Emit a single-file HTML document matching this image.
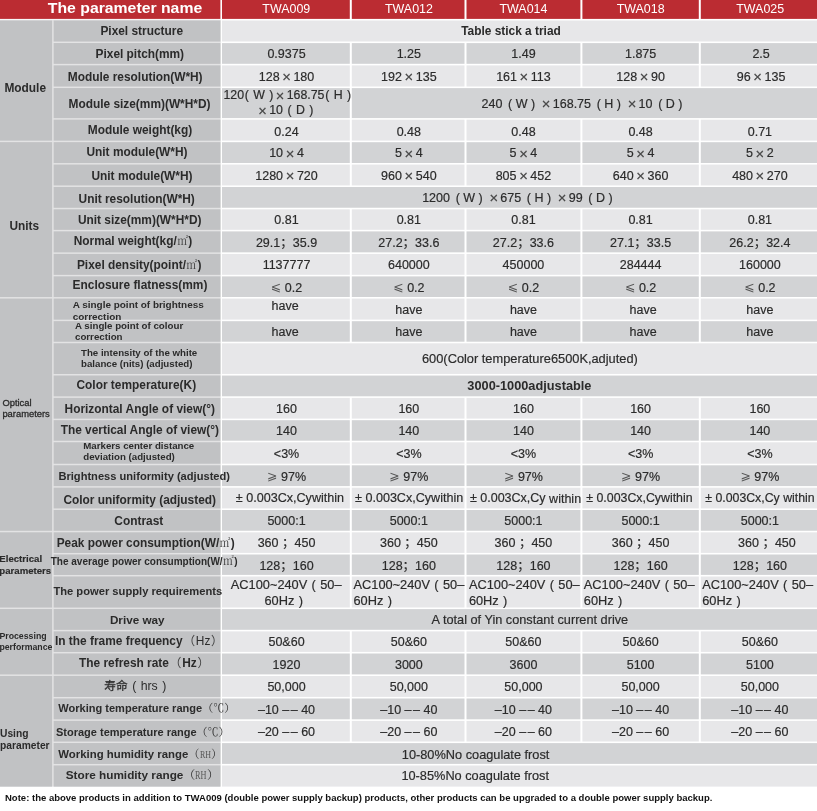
<!DOCTYPE html>
<html lang="en"><head><meta charset="utf-8"><title>The parameter name</title>
<style>
html,body{margin:0;padding:0;background:#fff;}
body{width:817px;height:811px;position:relative;overflow:hidden;font-family:"Liberation Sans","Noto Sans CJK SC",sans-serif;color:#2b2b2b;}
svg{position:absolute;left:0;top:0;display:block;}
.x{position:absolute;white-space:nowrap;}
.d{-webkit-text-stroke:0.18px #2b2b2b;}
.b{font-weight:bold;}
.d.b{-webkit-text-stroke:0;}
.w{color:#fff;}
.n{font-weight:normal;}
.nt{color:#111;}
.s{font-weight:normal;font-family:"Noto Serif CJK SC","Liberation Serif",serif;}
.mx{font-size:1.18em;line-height:0;margin:0 2.6px;position:relative;top:1.2px;color:#4a4a4a;}
.dj{font-family:"DejaVu Sans",sans-serif;font-size:1em;line-height:0;color:#555;position:relative;top:-0.8px;-webkit-text-stroke:0;}
.dd{letter-spacing:1.5px;margin-right:-1.5px;}
.rh{display:inline-block;transform:scaleX(.7);transform-origin:0 50%;margin-right:-4.6px;font-family:"Liberation Serif",serif;color:#555;}
.fp{font-weight:normal;color:#444;margin:0 0.7px;}
.cj{font-size:11.7px;-webkit-text-stroke:0.25px #2b2b2b;line-height:0;}
.wi{position:relative;top:1px;}
.m2{font-weight:normal;font-family:"Noto Serif CJK SC",serif;font-size:10.8px;color:#444;margin:0 0.4px;}
</style></head><body>
<svg width="817" height="811" viewBox="0 0 817 811">
<rect x="0" y="19.7" width="220.75" height="766.9" fill="#e3e3e4"/>
<rect x="0" y="0" width="220.4" height="18.9" fill="#bb2c32"/>
<rect x="222" y="0" width="127.8" height="18.9" fill="#bb2c32"/>
<rect x="351.8" y="0" width="112.7" height="18.9" fill="#bb2c32"/>
<rect x="466.5" y="0" width="113.9" height="18.9" fill="#bb2c32"/>
<rect x="582.4" y="0" width="116.4" height="18.9" fill="#bb2c32"/>
<rect x="700.8" y="0" width="116.2" height="18.9" fill="#bb2c32"/>
<rect x="53.65" y="20.5" width="166.75" height="21.05" fill="#c1c2c4"/>
<rect x="222" y="20.5" width="595" height="21" fill="#e7e7e9"/>
<rect x="53.65" y="43.05" width="166.75" height="20.8" fill="#c1c2c4"/>
<rect x="222" y="43.1" width="127.8" height="20.7" fill="#d2d3d5"/>
<rect x="351.8" y="43.1" width="112.7" height="20.7" fill="#d2d3d5"/>
<rect x="466.5" y="43.1" width="113.9" height="20.7" fill="#d2d3d5"/>
<rect x="582.4" y="43.1" width="116.4" height="20.7" fill="#d2d3d5"/>
<rect x="700.8" y="43.1" width="116.2" height="20.7" fill="#d2d3d5"/>
<rect x="53.65" y="65.35" width="166.75" height="21.2" fill="#c1c2c4"/>
<rect x="222" y="65.4" width="127.8" height="21.1" fill="#e7e7e9"/>
<rect x="351.8" y="65.4" width="112.7" height="21.1" fill="#e7e7e9"/>
<rect x="466.5" y="65.4" width="113.9" height="21.1" fill="#e7e7e9"/>
<rect x="582.4" y="65.4" width="116.4" height="21.1" fill="#e7e7e9"/>
<rect x="700.8" y="65.4" width="116.2" height="21.1" fill="#e7e7e9"/>
<rect x="53.65" y="88.05" width="166.75" height="30.1" fill="#c1c2c4"/>
<rect x="222" y="88.1" width="127.8" height="30" fill="#d2d3d5"/>
<rect x="351.8" y="88.1" width="465.2" height="30" fill="#d2d3d5"/>
<rect x="53.65" y="119.65" width="166.75" height="21" fill="#c1c2c4"/>
<rect x="222" y="119.7" width="127.8" height="20.9" fill="#e7e7e9"/>
<rect x="351.8" y="119.7" width="112.7" height="20.9" fill="#e7e7e9"/>
<rect x="466.5" y="119.7" width="113.9" height="20.9" fill="#e7e7e9"/>
<rect x="582.4" y="119.7" width="116.4" height="20.9" fill="#e7e7e9"/>
<rect x="700.8" y="119.7" width="116.2" height="20.9" fill="#e7e7e9"/>
<rect x="53.65" y="142.15" width="166.75" height="20.9" fill="#c1c2c4"/>
<rect x="222" y="142.2" width="127.8" height="20.8" fill="#d2d3d5"/>
<rect x="351.8" y="142.2" width="112.7" height="20.8" fill="#d2d3d5"/>
<rect x="466.5" y="142.2" width="113.9" height="20.8" fill="#d2d3d5"/>
<rect x="582.4" y="142.2" width="116.4" height="20.8" fill="#d2d3d5"/>
<rect x="700.8" y="142.2" width="116.2" height="20.8" fill="#d2d3d5"/>
<rect x="53.65" y="164.55" width="166.75" height="20.9" fill="#c1c2c4"/>
<rect x="222" y="164.6" width="127.8" height="20.8" fill="#e7e7e9"/>
<rect x="351.8" y="164.6" width="112.7" height="20.8" fill="#e7e7e9"/>
<rect x="466.5" y="164.6" width="113.9" height="20.8" fill="#e7e7e9"/>
<rect x="582.4" y="164.6" width="116.4" height="20.8" fill="#e7e7e9"/>
<rect x="700.8" y="164.6" width="116.2" height="20.8" fill="#e7e7e9"/>
<rect x="53.65" y="186.95" width="166.75" height="20.85" fill="#c1c2c4"/>
<rect x="222" y="187" width="595" height="20.75" fill="#d2d3d5"/>
<rect x="53.65" y="209.3" width="166.75" height="20.55" fill="#c1c2c4"/>
<rect x="222" y="209.35" width="127.8" height="20.45" fill="#e7e7e9"/>
<rect x="351.8" y="209.35" width="112.7" height="20.45" fill="#e7e7e9"/>
<rect x="466.5" y="209.35" width="113.9" height="20.45" fill="#e7e7e9"/>
<rect x="582.4" y="209.35" width="116.4" height="20.45" fill="#e7e7e9"/>
<rect x="700.8" y="209.35" width="116.2" height="20.45" fill="#e7e7e9"/>
<rect x="53.65" y="231.35" width="166.75" height="21.05" fill="#c1c2c4"/>
<rect x="222" y="231.4" width="127.8" height="20.95" fill="#d2d3d5"/>
<rect x="351.8" y="231.4" width="112.7" height="20.95" fill="#d2d3d5"/>
<rect x="466.5" y="231.4" width="113.9" height="20.95" fill="#d2d3d5"/>
<rect x="582.4" y="231.4" width="116.4" height="20.95" fill="#d2d3d5"/>
<rect x="700.8" y="231.4" width="116.2" height="20.95" fill="#d2d3d5"/>
<rect x="53.65" y="253.9" width="166.75" height="20.95" fill="#c1c2c4"/>
<rect x="222" y="253.95" width="127.8" height="20.85" fill="#e7e7e9"/>
<rect x="351.8" y="253.95" width="112.7" height="20.85" fill="#e7e7e9"/>
<rect x="466.5" y="253.95" width="113.9" height="20.85" fill="#e7e7e9"/>
<rect x="582.4" y="253.95" width="116.4" height="20.85" fill="#e7e7e9"/>
<rect x="700.8" y="253.95" width="116.2" height="20.85" fill="#e7e7e9"/>
<rect x="53.65" y="276.35" width="166.75" height="20.7" fill="#c1c2c4"/>
<rect x="222" y="276.4" width="127.8" height="20.6" fill="#d2d3d5"/>
<rect x="351.8" y="276.4" width="112.7" height="20.6" fill="#d2d3d5"/>
<rect x="466.5" y="276.4" width="113.9" height="20.6" fill="#d2d3d5"/>
<rect x="582.4" y="276.4" width="116.4" height="20.6" fill="#d2d3d5"/>
<rect x="700.8" y="276.4" width="116.2" height="20.6" fill="#d2d3d5"/>
<rect x="53.65" y="298.55" width="166.75" height="21.1" fill="#c1c2c4"/>
<rect x="222" y="298.6" width="127.8" height="21" fill="#e7e7e9"/>
<rect x="351.8" y="298.6" width="112.7" height="21" fill="#e7e7e9"/>
<rect x="466.5" y="298.6" width="113.9" height="21" fill="#e7e7e9"/>
<rect x="582.4" y="298.6" width="116.4" height="21" fill="#e7e7e9"/>
<rect x="700.8" y="298.6" width="116.2" height="21" fill="#e7e7e9"/>
<rect x="53.65" y="321.15" width="166.75" height="20.6" fill="#c1c2c4"/>
<rect x="222" y="321.2" width="127.8" height="20.5" fill="#d2d3d5"/>
<rect x="351.8" y="321.2" width="112.7" height="20.5" fill="#d2d3d5"/>
<rect x="466.5" y="321.2" width="113.9" height="20.5" fill="#d2d3d5"/>
<rect x="582.4" y="321.2" width="116.4" height="20.5" fill="#d2d3d5"/>
<rect x="700.8" y="321.2" width="116.2" height="20.5" fill="#d2d3d5"/>
<rect x="53.65" y="343.25" width="166.75" height="30.75" fill="#c1c2c4"/>
<rect x="222" y="343.3" width="595" height="30.65" fill="#e7e7e9"/>
<rect x="53.65" y="375.5" width="166.75" height="20.85" fill="#c1c2c4"/>
<rect x="222" y="375.55" width="595" height="20.75" fill="#d2d3d5"/>
<rect x="53.65" y="397.85" width="166.75" height="20.8" fill="#c1c2c4"/>
<rect x="222" y="397.9" width="127.8" height="20.7" fill="#e7e7e9"/>
<rect x="351.8" y="397.9" width="112.7" height="20.7" fill="#e7e7e9"/>
<rect x="466.5" y="397.9" width="113.9" height="20.7" fill="#e7e7e9"/>
<rect x="582.4" y="397.9" width="116.4" height="20.7" fill="#e7e7e9"/>
<rect x="700.8" y="397.9" width="116.2" height="20.7" fill="#e7e7e9"/>
<rect x="53.65" y="420.15" width="166.75" height="20.6" fill="#c1c2c4"/>
<rect x="222" y="420.2" width="127.8" height="20.5" fill="#d2d3d5"/>
<rect x="351.8" y="420.2" width="112.7" height="20.5" fill="#d2d3d5"/>
<rect x="466.5" y="420.2" width="113.9" height="20.5" fill="#d2d3d5"/>
<rect x="582.4" y="420.2" width="116.4" height="20.5" fill="#d2d3d5"/>
<rect x="700.8" y="420.2" width="116.2" height="20.5" fill="#d2d3d5"/>
<rect x="53.65" y="442.25" width="166.75" height="21.5" fill="#c1c2c4"/>
<rect x="222" y="442.3" width="127.8" height="21.4" fill="#e7e7e9"/>
<rect x="351.8" y="442.3" width="112.7" height="21.4" fill="#e7e7e9"/>
<rect x="466.5" y="442.3" width="113.9" height="21.4" fill="#e7e7e9"/>
<rect x="582.4" y="442.3" width="116.4" height="21.4" fill="#e7e7e9"/>
<rect x="700.8" y="442.3" width="116.2" height="21.4" fill="#e7e7e9"/>
<rect x="53.65" y="465.25" width="166.75" height="20.9" fill="#c1c2c4"/>
<rect x="222" y="465.3" width="127.8" height="20.8" fill="#d2d3d5"/>
<rect x="351.8" y="465.3" width="112.7" height="20.8" fill="#d2d3d5"/>
<rect x="466.5" y="465.3" width="113.9" height="20.8" fill="#d2d3d5"/>
<rect x="582.4" y="465.3" width="116.4" height="20.8" fill="#d2d3d5"/>
<rect x="700.8" y="465.3" width="116.2" height="20.8" fill="#d2d3d5"/>
<rect x="53.65" y="487.65" width="166.75" height="20.8" fill="#c1c2c4"/>
<rect x="222" y="487.7" width="127.8" height="20.7" fill="#e7e7e9"/>
<rect x="351.8" y="487.7" width="112.7" height="20.7" fill="#e7e7e9"/>
<rect x="466.5" y="487.7" width="113.9" height="20.7" fill="#e7e7e9"/>
<rect x="582.4" y="487.7" width="116.4" height="20.7" fill="#e7e7e9"/>
<rect x="700.8" y="487.7" width="116.2" height="20.7" fill="#e7e7e9"/>
<rect x="53.65" y="509.95" width="166.75" height="20.85" fill="#c1c2c4"/>
<rect x="222" y="510" width="127.8" height="20.75" fill="#d2d3d5"/>
<rect x="351.8" y="510" width="112.7" height="20.75" fill="#d2d3d5"/>
<rect x="466.5" y="510" width="113.9" height="20.75" fill="#d2d3d5"/>
<rect x="582.4" y="510" width="116.4" height="20.75" fill="#d2d3d5"/>
<rect x="700.8" y="510" width="116.2" height="20.75" fill="#d2d3d5"/>
<rect x="53.65" y="532.3" width="166.75" height="20.65" fill="#c1c2c4"/>
<rect x="222" y="532.35" width="127.8" height="20.55" fill="#e7e7e9"/>
<rect x="351.8" y="532.35" width="112.7" height="20.55" fill="#e7e7e9"/>
<rect x="466.5" y="532.35" width="113.9" height="20.55" fill="#e7e7e9"/>
<rect x="582.4" y="532.35" width="116.4" height="20.55" fill="#e7e7e9"/>
<rect x="700.8" y="532.35" width="116.2" height="20.55" fill="#e7e7e9"/>
<rect x="53.65" y="554.45" width="166.75" height="20.5" fill="#c1c2c4"/>
<rect x="222" y="554.5" width="127.8" height="20.4" fill="#d2d3d5"/>
<rect x="351.8" y="554.5" width="112.7" height="20.4" fill="#d2d3d5"/>
<rect x="466.5" y="554.5" width="113.9" height="20.4" fill="#d2d3d5"/>
<rect x="582.4" y="554.5" width="116.4" height="20.4" fill="#d2d3d5"/>
<rect x="700.8" y="554.5" width="116.2" height="20.4" fill="#d2d3d5"/>
<rect x="53.65" y="576.45" width="166.75" height="31.1" fill="#c1c2c4"/>
<rect x="222" y="576.5" width="127.8" height="31" fill="#e7e7e9"/>
<rect x="351.8" y="576.5" width="112.7" height="31" fill="#e7e7e9"/>
<rect x="466.5" y="576.5" width="113.9" height="31" fill="#e7e7e9"/>
<rect x="582.4" y="576.5" width="116.4" height="31" fill="#e7e7e9"/>
<rect x="700.8" y="576.5" width="116.2" height="31" fill="#e7e7e9"/>
<rect x="53.65" y="609.05" width="166.75" height="20.8" fill="#c1c2c4"/>
<rect x="222" y="609.1" width="595" height="20.7" fill="#d2d3d5"/>
<rect x="53.65" y="631.35" width="166.75" height="20.6" fill="#c1c2c4"/>
<rect x="222" y="631.4" width="127.8" height="20.5" fill="#e7e7e9"/>
<rect x="351.8" y="631.4" width="112.7" height="20.5" fill="#e7e7e9"/>
<rect x="466.5" y="631.4" width="113.9" height="20.5" fill="#e7e7e9"/>
<rect x="582.4" y="631.4" width="116.4" height="20.5" fill="#e7e7e9"/>
<rect x="700.8" y="631.4" width="116.2" height="20.5" fill="#e7e7e9"/>
<rect x="53.65" y="653.45" width="166.75" height="21" fill="#c1c2c4"/>
<rect x="222" y="653.5" width="127.8" height="20.9" fill="#d2d3d5"/>
<rect x="351.8" y="653.5" width="112.7" height="20.9" fill="#d2d3d5"/>
<rect x="466.5" y="653.5" width="113.9" height="20.9" fill="#d2d3d5"/>
<rect x="582.4" y="653.5" width="116.4" height="20.9" fill="#d2d3d5"/>
<rect x="700.8" y="653.5" width="116.2" height="20.9" fill="#d2d3d5"/>
<rect x="53.65" y="675.95" width="166.75" height="21" fill="#c1c2c4"/>
<rect x="222" y="676" width="127.8" height="20.9" fill="#e7e7e9"/>
<rect x="351.8" y="676" width="112.7" height="20.9" fill="#e7e7e9"/>
<rect x="466.5" y="676" width="113.9" height="20.9" fill="#e7e7e9"/>
<rect x="582.4" y="676" width="116.4" height="20.9" fill="#e7e7e9"/>
<rect x="700.8" y="676" width="116.2" height="20.9" fill="#e7e7e9"/>
<rect x="53.65" y="698.45" width="166.75" height="20.9" fill="#c1c2c4"/>
<rect x="222" y="698.5" width="127.8" height="20.8" fill="#d2d3d5"/>
<rect x="351.8" y="698.5" width="112.7" height="20.8" fill="#d2d3d5"/>
<rect x="466.5" y="698.5" width="113.9" height="20.8" fill="#d2d3d5"/>
<rect x="582.4" y="698.5" width="116.4" height="20.8" fill="#d2d3d5"/>
<rect x="700.8" y="698.5" width="116.2" height="20.8" fill="#d2d3d5"/>
<rect x="53.65" y="720.85" width="166.75" height="20.7" fill="#c1c2c4"/>
<rect x="222" y="720.9" width="127.8" height="20.6" fill="#e7e7e9"/>
<rect x="351.8" y="720.9" width="112.7" height="20.6" fill="#e7e7e9"/>
<rect x="466.5" y="720.9" width="113.9" height="20.6" fill="#e7e7e9"/>
<rect x="582.4" y="720.9" width="116.4" height="20.6" fill="#e7e7e9"/>
<rect x="700.8" y="720.9" width="116.2" height="20.6" fill="#e7e7e9"/>
<rect x="53.65" y="743.05" width="166.75" height="20.9" fill="#c1c2c4"/>
<rect x="222" y="743.1" width="595" height="20.8" fill="#d2d3d5"/>
<rect x="53.65" y="765.45" width="166.75" height="21.15" fill="#c1c2c4"/>
<rect x="222" y="765.5" width="595" height="21.1" fill="#e7e7e9"/>
<rect x="0" y="20.5" width="52.15" height="120.15" fill="#c1c2c4"/>
<rect x="0" y="142.15" width="52.15" height="154.9" fill="#c1c2c4"/>
<rect x="0" y="298.55" width="52.15" height="232.25" fill="#c1c2c4"/>
<rect x="0" y="532.3" width="52.15" height="75.25" fill="#c1c2c4"/>
<rect x="0" y="609.05" width="52.15" height="65.4" fill="#c1c2c4"/>
<rect x="0" y="675.95" width="52.15" height="110.65" fill="#c1c2c4"/>
</svg>
<div class="x b w" style="left:-75px;width:400px;text-align:center;top:-0.1px;font-size:14.8px;line-height:17.8px;transform:scaleX(1.067);">The parameter name</div>
<div class="x w" style="left:86.325px;width:400px;text-align:center;top:1.95px;font-size:12.45px;line-height:14.9px;">TWA009</div>
<div class="x w" style="left:208.95px;width:400px;text-align:center;top:1.95px;font-size:12.45px;line-height:14.9px;">TWA012</div>
<div class="x w" style="left:323.45px;width:400px;text-align:center;top:1.95px;font-size:12.45px;line-height:14.9px;">TWA014</div>
<div class="x w" style="left:440.6px;width:400px;text-align:center;top:1.95px;font-size:12.45px;line-height:14.9px;">TWA018</div>
<div class="x w" style="left:560.2px;width:400px;text-align:center;top:1.95px;font-size:12.45px;line-height:14.9px;">TWA025</div>
<div class="x b" style="left:-58.3px;width:400px;text-align:center;top:23.95px;font-size:11.9px;line-height:14.3px;">Pixel structure</div>
<div class="x d b" style="left:311px;width:400px;text-align:center;top:24.35px;font-size:11.9px;line-height:14.3px;">Table stick a triad</div>
<div class="x b" style="left:-60.2px;width:400px;text-align:center;top:47.25px;font-size:11.9px;line-height:14.3px;">Pixel pitch(mm)</div>
<div class="x d " style="left:86.525px;width:400px;text-align:center;top:47.25px;font-size:12.5px;line-height:15px;">0.9375</div>
<div class="x d " style="left:208.85px;width:400px;text-align:center;top:47.25px;font-size:12.5px;line-height:15px;">1.25</div>
<div class="x d " style="left:323.45px;width:400px;text-align:center;top:47.25px;font-size:12.5px;line-height:15px;">1.49</div>
<div class="x d " style="left:440.6px;width:400px;text-align:center;top:47.25px;font-size:12.5px;line-height:15px;">1.875</div>
<div class="x d " style="left:561.1px;width:400px;text-align:center;top:47.25px;font-size:12.5px;line-height:15px;">2.5</div>
<div class="x b" style="left:-64.8px;width:400px;text-align:center;top:69.95px;font-size:11.9px;line-height:14.3px;">Module resolution(W*H)</div>
<div class="x d " style="left:86.525px;width:400px;text-align:center;top:69.75px;font-size:12.5px;line-height:15px;">128<span class="mx">×</span>180</div>
<div class="x d " style="left:208.85px;width:400px;text-align:center;top:69.75px;font-size:12.5px;line-height:15px;">192<span class="mx">×</span>135</div>
<div class="x d " style="left:323.45px;width:400px;text-align:center;top:69.75px;font-size:12.5px;line-height:15px;">161<span class="mx">×</span>113</div>
<div class="x d " style="left:440.6px;width:400px;text-align:center;top:69.75px;font-size:12.5px;line-height:15px;">128<span class="mx">×</span>90</div>
<div class="x d " style="left:561.1px;width:400px;text-align:center;top:69.75px;font-size:12.5px;line-height:15px;">96<span class="mx">×</span>135</div>
<div class="x b" style="left:-60.5px;width:400px;text-align:center;top:96.75px;font-size:11.9px;line-height:14.3px;">Module size(mm)(W*H*D)</div>
<div class="x d " style="left:87.3px;width:400px;text-align:center;top:88.4px;font-size:12.35px;line-height:14.8px;word-spacing:1px;">120<span style="margin-left:0.7px"></span>( W )<span class="mx" style="margin:0 2.4px">×</span>168.75<span style="margin-left:0.7px"></span>( H )</div>
<div class="x d " style="left:84.7px;width:400px;text-align:center;top:103.4px;font-size:12.35px;line-height:14.8px;word-spacing:1px;"><span class="mx" style="margin:0 2.4px">×</span>10 ( D )</div>
<div class="x d " style="left:382.8px;width:400px;text-align:center;top:96.9px;font-size:12.5px;line-height:15px;">240 <span style="margin-left:2.2px">(</span> W <span style="margin-right:1.5px">)</span> <span class="mx" style="margin:0 2.3px 0 1.7px">×</span>168.75 <span style="margin-left:2.2px">(</span> H <span style="margin-right:1.5px">)</span> <span class="mx" style="margin:0 2.3px 0 1.7px">×</span>10 <span style="margin-left:2.2px">(</span> D <span style="margin-right:1.5px">)</span></div>
<div class="x b" style="left:-60px;width:400px;text-align:center;top:123.45px;font-size:11.9px;line-height:14.3px;">Module weight(kg)</div>
<div class="x d " style="left:86.525px;width:400px;text-align:center;top:124.55px;font-size:12.5px;line-height:15px;">0.24</div>
<div class="x d " style="left:208.85px;width:400px;text-align:center;top:124.55px;font-size:12.5px;line-height:15px;">0.48</div>
<div class="x d " style="left:323.45px;width:400px;text-align:center;top:124.55px;font-size:12.5px;line-height:15px;">0.48</div>
<div class="x d " style="left:440.6px;width:400px;text-align:center;top:124.55px;font-size:12.5px;line-height:15px;">0.48</div>
<div class="x d " style="left:559.9px;width:400px;text-align:center;top:124.55px;font-size:12.5px;line-height:15px;">0.71</div>
<div class="x b" style="left:-63px;width:400px;text-align:center;top:144.75px;font-size:11.9px;line-height:14.3px;">Unit module(W*H)</div>
<div class="x d " style="left:86.525px;width:400px;text-align:center;top:146.4px;font-size:12.5px;line-height:15px;">10<span class="mx">×</span>4</div>
<div class="x d " style="left:208.85px;width:400px;text-align:center;top:146.4px;font-size:12.5px;line-height:15px;">5<span class="mx">×</span>4</div>
<div class="x d " style="left:323.45px;width:400px;text-align:center;top:146.4px;font-size:12.5px;line-height:15px;">5<span class="mx">×</span>4</div>
<div class="x d " style="left:440.6px;width:400px;text-align:center;top:146.4px;font-size:12.5px;line-height:15px;">5<span class="mx">×</span>4</div>
<div class="x d " style="left:559.9px;width:400px;text-align:center;top:146.4px;font-size:12.5px;line-height:15px;">5<span class="mx">×</span>2</div>
<div class="x b" style="left:-58px;width:400px;text-align:center;top:168.75px;font-size:11.9px;line-height:14.3px;">Unit module(W*H)</div>
<div class="x d " style="left:86.525px;width:400px;text-align:center;top:168.8px;font-size:12.5px;line-height:15px;">1280<span class="mx">×</span>720</div>
<div class="x d " style="left:208.85px;width:400px;text-align:center;top:168.8px;font-size:12.5px;line-height:15px;">960<span class="mx">×</span>540</div>
<div class="x d " style="left:323.45px;width:400px;text-align:center;top:168.8px;font-size:12.5px;line-height:15px;">805<span class="mx">×</span>452</div>
<div class="x d " style="left:440.6px;width:400px;text-align:center;top:168.8px;font-size:12.5px;line-height:15px;">640<span class="mx">×</span>360</div>
<div class="x d " style="left:559.9px;width:400px;text-align:center;top:168.8px;font-size:12.5px;line-height:15px;">480<span class="mx">×</span>270</div>
<div class="x b" style="left:-63.3px;width:400px;text-align:center;top:191.75px;font-size:11.9px;line-height:14.3px;">Unit resolution(W*H)</div>
<div class="x d " style="left:318.2px;width:400px;text-align:center;top:191.175px;font-size:12.5px;line-height:15px;">1200 <span style="margin-left:2.2px">(</span> W <span style="margin-right:1.5px">)</span> <span class="mx" style="margin:0 2.3px 0 1.7px">×</span>675 <span style="margin-left:2.2px">(</span> H <span style="margin-right:1.5px">)</span> <span class="mx" style="margin:0 2.3px 0 1.7px">×</span>99 <span style="margin-left:2.2px">(</span> D <span style="margin-right:1.5px">)</span></div>
<div class="x b" style="left:-60.3px;width:400px;text-align:center;top:212.75px;font-size:11.9px;line-height:14.3px;">Unit size(mm)(W*H*D)</div>
<div class="x d " style="left:86.525px;width:400px;text-align:center;top:213.375px;font-size:12.5px;line-height:15px;">0.81</div>
<div class="x d " style="left:208.85px;width:400px;text-align:center;top:213.375px;font-size:12.5px;line-height:15px;">0.81</div>
<div class="x d " style="left:323.45px;width:400px;text-align:center;top:213.375px;font-size:12.5px;line-height:15px;">0.81</div>
<div class="x d " style="left:440.6px;width:400px;text-align:center;top:213.375px;font-size:12.5px;line-height:15px;">0.81</div>
<div class="x d " style="left:559.9px;width:400px;text-align:center;top:213.375px;font-size:12.5px;line-height:15px;">0.81</div>
<div class="x b" style="left:-67px;width:400px;text-align:center;top:234.45px;font-size:11.9px;line-height:14.3px;">Normal weight(kg/<span class="m2">㎡</span>)</div>
<div class="x d " style="left:86.525px;width:400px;text-align:center;top:235.675px;font-size:12.5px;line-height:15px;">29.1；35.9</div>
<div class="x d " style="left:208.85px;width:400px;text-align:center;top:235.675px;font-size:12.5px;line-height:15px;">27.2；33.6</div>
<div class="x d " style="left:323.45px;width:400px;text-align:center;top:235.675px;font-size:12.5px;line-height:15px;">27.2；33.6</div>
<div class="x d " style="left:440.6px;width:400px;text-align:center;top:235.675px;font-size:12.5px;line-height:15px;">27.1；33.5</div>
<div class="x d " style="left:559.9px;width:400px;text-align:center;top:235.675px;font-size:12.5px;line-height:15px;">26.2；32.4</div>
<div class="x b" style="left:-60.8px;width:400px;text-align:center;top:258.45px;font-size:11.9px;line-height:14.3px;">Pixel density(point/<span class="m2">㎡</span>)</div>
<div class="x d " style="left:86.525px;width:400px;text-align:center;top:258.175px;font-size:12.5px;line-height:15px;">1137777</div>
<div class="x d " style="left:208.85px;width:400px;text-align:center;top:258.175px;font-size:12.5px;line-height:15px;">640000</div>
<div class="x d " style="left:323.45px;width:400px;text-align:center;top:258.175px;font-size:12.5px;line-height:15px;">450000</div>
<div class="x d " style="left:440.6px;width:400px;text-align:center;top:258.175px;font-size:12.5px;line-height:15px;">284444</div>
<div class="x d " style="left:559.9px;width:400px;text-align:center;top:258.175px;font-size:12.5px;line-height:15px;">160000</div>
<div class="x b" style="left:-60px;width:400px;text-align:center;top:277.75px;font-size:11.9px;line-height:14.3px;">Enclosure flatness(mm)</div>
<div class="x d " style="left:86.525px;width:400px;text-align:center;top:280.5px;font-size:12.5px;line-height:15px;"><span class="dj">⩽</span> 0.2</div>
<div class="x d " style="left:208.85px;width:400px;text-align:center;top:280.5px;font-size:12.5px;line-height:15px;"><span class="dj">⩽</span> 0.2</div>
<div class="x d " style="left:323.45px;width:400px;text-align:center;top:280.5px;font-size:12.5px;line-height:15px;"><span class="dj">⩽</span> 0.2</div>
<div class="x d " style="left:440.6px;width:400px;text-align:center;top:280.5px;font-size:12.5px;line-height:15px;"><span class="dj">⩽</span> 0.2</div>
<div class="x d " style="left:559.9px;width:400px;text-align:center;top:280.5px;font-size:12.5px;line-height:15px;"><span class="dj">⩽</span> 0.2</div>
<div class="x b" style="left:72.7px;top:298.95px;font-size:9.95px;line-height:11.9px;">A single point of brightness</div>
<div class="x b" style="left:72.7px;top:310.75px;font-size:9.95px;line-height:11.9px;">correction</div>
<div class="x d " style="left:85.125px;width:400px;text-align:center;top:299.2px;font-size:12.5px;line-height:15px;">have</div>
<div class="x d " style="left:208.85px;width:400px;text-align:center;top:302.6px;font-size:12.5px;line-height:15px;">have</div>
<div class="x d " style="left:323.45px;width:400px;text-align:center;top:302.6px;font-size:12.5px;line-height:15px;">have</div>
<div class="x d " style="left:443.1px;width:400px;text-align:center;top:302.6px;font-size:12.5px;line-height:15px;">have</div>
<div class="x d " style="left:559.9px;width:400px;text-align:center;top:302.6px;font-size:12.5px;line-height:15px;">have</div>
<div class="x b" style="left:75px;top:319.85px;font-size:9.73px;line-height:11.7px;">A single point of colour</div>
<div class="x b" style="left:75px;top:330.65px;font-size:9.73px;line-height:11.7px;">correction</div>
<div class="x d " style="left:85.125px;width:400px;text-align:center;top:324.85px;font-size:12.5px;line-height:15px;">have</div>
<div class="x d " style="left:208.85px;width:400px;text-align:center;top:324.85px;font-size:12.5px;line-height:15px;">have</div>
<div class="x d " style="left:323.45px;width:400px;text-align:center;top:324.85px;font-size:12.5px;line-height:15px;">have</div>
<div class="x d " style="left:443.1px;width:400px;text-align:center;top:324.85px;font-size:12.5px;line-height:15px;">have</div>
<div class="x d " style="left:559.9px;width:400px;text-align:center;top:324.85px;font-size:12.5px;line-height:15px;">have</div>
<div class="x b" style="left:81px;top:346.9px;font-size:9.7px;line-height:11.6px;">The intensity of the white</div>
<div class="x b" style="left:81px;top:357.9px;font-size:9.7px;line-height:11.6px;">balance (nits) (adjusted)</div>
<div class="x d " style="left:329.9px;width:400px;text-align:center;top:351.225px;font-size:12.82px;line-height:15.4px;">600(Color temperature6500K,adjuted)</div>
<div class="x b" style="left:-63.7px;width:400px;text-align:center;top:378.45px;font-size:11.9px;line-height:14.3px;">Color temperature(K)</div>
<div class="x d b" style="left:329.4px;width:400px;text-align:center;top:377.875px;font-size:12.75px;line-height:15.3px;">3000-1000adjustable</div>
<div class="x b" style="left:-60.3px;width:400px;text-align:center;top:401.95px;font-size:11.9px;line-height:14.3px;">Horizontal Angle of view(°)</div>
<div class="x d " style="left:86.525px;width:400px;text-align:center;top:402.05px;font-size:12.5px;line-height:15px;">160</div>
<div class="x d " style="left:208.85px;width:400px;text-align:center;top:402.05px;font-size:12.5px;line-height:15px;">160</div>
<div class="x d " style="left:323.45px;width:400px;text-align:center;top:402.05px;font-size:12.5px;line-height:15px;">160</div>
<div class="x d " style="left:440.6px;width:400px;text-align:center;top:402.05px;font-size:12.5px;line-height:15px;">160</div>
<div class="x d " style="left:559.9px;width:400px;text-align:center;top:402.05px;font-size:12.5px;line-height:15px;">160</div>
<div class="x b" style="left:-60.2px;width:400px;text-align:center;top:423.45px;font-size:11.9px;line-height:14.3px;">The vertical Angle of view(°)</div>
<div class="x d " style="left:86.525px;width:400px;text-align:center;top:424.25px;font-size:12.5px;line-height:15px;">140</div>
<div class="x d " style="left:208.85px;width:400px;text-align:center;top:424.25px;font-size:12.5px;line-height:15px;">140</div>
<div class="x d " style="left:323.45px;width:400px;text-align:center;top:424.25px;font-size:12.5px;line-height:15px;">140</div>
<div class="x d " style="left:440.6px;width:400px;text-align:center;top:424.25px;font-size:12.5px;line-height:15px;">140</div>
<div class="x d " style="left:559.9px;width:400px;text-align:center;top:424.25px;font-size:12.5px;line-height:15px;">140</div>
<div class="x b" style="left:83.3px;top:439.9px;font-size:9.7px;line-height:11.6px;">Markers center distance</div>
<div class="x b" style="left:83.3px;top:450.9px;font-size:9.7px;line-height:11.6px;">deviation (adjusted)</div>
<div class="x d " style="left:86.525px;width:400px;text-align:center;top:446.8px;font-size:12.5px;line-height:15px;">&lt;3%</div>
<div class="x d " style="left:208.85px;width:400px;text-align:center;top:446.8px;font-size:12.5px;line-height:15px;">&lt;3%</div>
<div class="x d " style="left:323.45px;width:400px;text-align:center;top:446.8px;font-size:12.5px;line-height:15px;">&lt;3%</div>
<div class="x d " style="left:440.6px;width:400px;text-align:center;top:446.8px;font-size:12.5px;line-height:15px;">&lt;3%</div>
<div class="x d " style="left:559.9px;width:400px;text-align:center;top:446.8px;font-size:12.5px;line-height:15px;">&lt;3%</div>
<div class="x b" style="left:-55.8px;width:400px;text-align:center;top:469.95px;font-size:11.12px;line-height:13.3px;">Brightness uniformity (adjusted)</div>
<div class="x d " style="left:86.525px;width:400px;text-align:center;top:469.5px;font-size:12.5px;line-height:15px;"><span class="dj">⩾</span> 97%</div>
<div class="x d " style="left:208.85px;width:400px;text-align:center;top:469.5px;font-size:12.5px;line-height:15px;"><span class="dj">⩾</span> 97%</div>
<div class="x d " style="left:323.45px;width:400px;text-align:center;top:469.5px;font-size:12.5px;line-height:15px;"><span class="dj">⩾</span> 97%</div>
<div class="x d " style="left:440.6px;width:400px;text-align:center;top:469.5px;font-size:12.5px;line-height:15px;"><span class="dj">⩾</span> 97%</div>
<div class="x d " style="left:559.9px;width:400px;text-align:center;top:469.5px;font-size:12.5px;line-height:15px;"><span class="dj">⩾</span> 97%</div>
<div class="x b" style="left:-60.3px;width:400px;text-align:center;top:492.75px;font-size:11.9px;line-height:14.3px;">Color uniformity (adjusted)</div>
<div class="x d " style="left:235.8px;top:491.1px;font-size:12.59px;line-height:15.1px;">± 0.003Cx,Cywithin</div>
<div class="x d " style="left:355px;top:491.1px;font-size:12.59px;line-height:15.1px;">± 0.003Cx,Cywithin</div>
<div class="x d " style="left:469.9px;top:491.15px;font-size:12.53px;line-height:15px;">± 0.003Cx,Cy<span class='wi'> within</span></div>
<div class="x d " style="left:586.3px;top:491.25px;font-size:12.35px;line-height:14.8px;">± 0.003Cx,Cywithin</div>
<div class="x d " style="left:705.3px;top:491.25px;font-size:12.3px;line-height:14.8px;">± 0.003Cx,Cy within</div>
<div class="x b" style="left:-61.2px;width:400px;text-align:center;top:514.45px;font-size:11.9px;line-height:14.3px;">Contrast</div>
<div class="x d " style="left:86.525px;width:400px;text-align:center;top:514.375px;font-size:12.5px;line-height:15px;">5000:1</div>
<div class="x d " style="left:208.85px;width:400px;text-align:center;top:514.375px;font-size:12.5px;line-height:15px;">5000:1</div>
<div class="x d " style="left:323.45px;width:400px;text-align:center;top:514.375px;font-size:12.5px;line-height:15px;">5000:1</div>
<div class="x d " style="left:440.6px;width:400px;text-align:center;top:514.375px;font-size:12.5px;line-height:15px;">5000:1</div>
<div class="x d " style="left:559.9px;width:400px;text-align:center;top:514.375px;font-size:12.5px;line-height:15px;">5000:1</div>
<div class="x b" style="left:56.7px;top:536.15px;font-size:11.9px;line-height:14.3px;">Peak power consumption(W/<span class="m2">㎡</span>)</div>
<div class="x d " style="left:86.525px;width:400px;text-align:center;top:536.425px;font-size:12.5px;line-height:15px;">360 ；450</div>
<div class="x d " style="left:208.85px;width:400px;text-align:center;top:536.425px;font-size:12.5px;line-height:15px;">360 ；450</div>
<div class="x d " style="left:323.45px;width:400px;text-align:center;top:536.425px;font-size:12.5px;line-height:15px;">360 ；450</div>
<div class="x d " style="left:440.6px;width:400px;text-align:center;top:536.425px;font-size:12.5px;line-height:15px;">360 ；450</div>
<div class="x d " style="left:566.9px;width:400px;text-align:center;top:536.425px;font-size:12.5px;line-height:15px;">360 ；450</div>
<div class="x b" style="left:50.7px;top:554.9px;font-size:10.03px;line-height:12px;">The average power consumption(W/<span class="m2">㎡</span>)</div>
<div class="x d " style="left:86.525px;width:400px;text-align:center;top:558.5px;font-size:12.5px;line-height:15px;">128；160</div>
<div class="x d " style="left:208.85px;width:400px;text-align:center;top:558.5px;font-size:12.5px;line-height:15px;">128；160</div>
<div class="x d " style="left:323.45px;width:400px;text-align:center;top:558.5px;font-size:12.5px;line-height:15px;">128；160</div>
<div class="x d " style="left:440.6px;width:400px;text-align:center;top:558.5px;font-size:12.5px;line-height:15px;">128；160</div>
<div class="x d " style="left:559.9px;width:400px;text-align:center;top:558.5px;font-size:12.5px;line-height:15px;">128；160</div>
<div class="x b" style="left:-62.2px;width:400px;text-align:center;top:584.9px;font-size:11.18px;line-height:13.4px;">The power supply requirements</div>
<div class="x d " style="left:86.2px;width:400px;text-align:center;top:577.35px;font-size:12.8px;line-height:15.4px;word-spacing:0.8px;">AC100~240V ( 50–</div>
<div class="x d " style="left:83.7px;width:400px;text-align:center;top:593.05px;font-size:12.8px;line-height:15.4px;word-spacing:0.8px;">60Hz )</div>
<div class="x d " style="left:353.5px;top:577.35px;font-size:12.8px;line-height:15.4px;word-spacing:0.8px;">AC100~240V ( 50–</div>
<div class="x d " style="left:353.5px;top:593.05px;font-size:12.8px;line-height:15.4px;word-spacing:0.8px;">60Hz )</div>
<div class="x d " style="left:468.9px;top:577.35px;font-size:12.8px;line-height:15.4px;word-spacing:0.8px;">AC100~240V ( 50–</div>
<div class="x d " style="left:468.9px;top:593.05px;font-size:12.8px;line-height:15.4px;word-spacing:0.8px;">60Hz )</div>
<div class="x d " style="left:583.8px;top:577.35px;font-size:12.8px;line-height:15.4px;word-spacing:0.8px;">AC100~240V ( 50–</div>
<div class="x d " style="left:583.8px;top:593.05px;font-size:12.8px;line-height:15.4px;word-spacing:0.8px;">60Hz )</div>
<div class="x d " style="left:702.2px;top:577.35px;font-size:12.8px;line-height:15.4px;word-spacing:0.8px;">AC100~240V ( 50–</div>
<div class="x d " style="left:702.2px;top:593.05px;font-size:12.8px;line-height:15.4px;word-spacing:0.8px;">60Hz )</div>
<div class="x b" style="left:-62.8px;width:400px;text-align:center;top:612.9px;font-size:11.7px;line-height:14px;">Drive way</div>
<div class="x d " style="left:329.9px;width:400px;text-align:center;top:612.4px;font-size:12.72px;line-height:15.3px;">A total of Yin constant current drive</div>
<div class="x b" style="left:55px;top:634.45px;font-size:11.9px;line-height:14.3px;">In the frame frequency<span class='n'><span class="fp">（</span>Hz<span class="fp">）</span></span></div>
<div class="x d " style="left:86.525px;width:400px;text-align:center;top:635.45px;font-size:12.5px;line-height:15px;">50&amp;60</div>
<div class="x d " style="left:208.85px;width:400px;text-align:center;top:635.45px;font-size:12.5px;line-height:15px;">50&amp;60</div>
<div class="x d " style="left:323.45px;width:400px;text-align:center;top:635.45px;font-size:12.5px;line-height:15px;">50&amp;60</div>
<div class="x d " style="left:440.6px;width:400px;text-align:center;top:635.45px;font-size:12.5px;line-height:15px;">50&amp;60</div>
<div class="x d " style="left:559.9px;width:400px;text-align:center;top:635.45px;font-size:12.5px;line-height:15px;">50&amp;60</div>
<div class="x b" style="left:79px;top:656.15px;font-size:11.9px;line-height:14.3px;">The refresh rate<span class="fp">（</span>Hz<span class="fp">）</span></div>
<div class="x d " style="left:86.525px;width:400px;text-align:center;top:657.75px;font-size:12.5px;line-height:15px;">1920</div>
<div class="x d " style="left:208.85px;width:400px;text-align:center;top:657.75px;font-size:12.5px;line-height:15px;">3000</div>
<div class="x d " style="left:323.45px;width:400px;text-align:center;top:657.75px;font-size:12.5px;line-height:15px;">3600</div>
<div class="x d " style="left:440.6px;width:400px;text-align:center;top:657.75px;font-size:12.5px;line-height:15px;">5100</div>
<div class="x d " style="left:559.9px;width:400px;text-align:center;top:657.75px;font-size:12.5px;line-height:15px;">5100</div>
<div class="x b" style="left:-64.7px;width:400px;text-align:center;top:679.2px;font-size:12.3px;line-height:14.8px;word-spacing:1px;"><span class='n'><span class='cj'>寿命</span> ( hrs )</span></div>
<div class="x d " style="left:86.525px;width:400px;text-align:center;top:680.25px;font-size:12.5px;line-height:15px;">50,000</div>
<div class="x d " style="left:208.85px;width:400px;text-align:center;top:680.25px;font-size:12.5px;line-height:15px;">50,000</div>
<div class="x d " style="left:323.45px;width:400px;text-align:center;top:680.25px;font-size:12.5px;line-height:15px;">50,000</div>
<div class="x d " style="left:440.6px;width:400px;text-align:center;top:680.25px;font-size:12.5px;line-height:15px;">50,000</div>
<div class="x d " style="left:559.9px;width:400px;text-align:center;top:680.25px;font-size:12.5px;line-height:15px;">50,000</div>
<div class="x b" style="left:58.3px;top:701.2px;font-size:11.04px;line-height:13.2px;">Working temperature range<span class='s'>（℃）</span></div>
<div class="x d " style="left:86.525px;width:400px;text-align:center;top:702.7px;font-size:12.5px;line-height:15px;">–10 <span class="dd">––</span> 40</div>
<div class="x d " style="left:208.85px;width:400px;text-align:center;top:702.7px;font-size:12.5px;line-height:15px;">–10 <span class="dd">––</span> 40</div>
<div class="x d " style="left:323.45px;width:400px;text-align:center;top:702.7px;font-size:12.5px;line-height:15px;">–10 <span class="dd">––</span> 40</div>
<div class="x d " style="left:440.6px;width:400px;text-align:center;top:702.7px;font-size:12.5px;line-height:15px;">–10 <span class="dd">––</span> 40</div>
<div class="x d " style="left:559.9px;width:400px;text-align:center;top:702.7px;font-size:12.5px;line-height:15px;">–10 <span class="dd">––</span> 40</div>
<div class="x b" style="left:56px;top:724.7px;font-size:11.01px;line-height:13.2px;">Storage temperature range<span class='s'>（℃）</span></div>
<div class="x d " style="left:86.525px;width:400px;text-align:center;top:725px;font-size:12.5px;line-height:15px;">–20 <span class="dd">––</span> 60</div>
<div class="x d " style="left:208.85px;width:400px;text-align:center;top:725px;font-size:12.5px;line-height:15px;">–20 <span class="dd">––</span> 60</div>
<div class="x d " style="left:323.45px;width:400px;text-align:center;top:725px;font-size:12.5px;line-height:15px;">–20 <span class="dd">––</span> 60</div>
<div class="x d " style="left:440.6px;width:400px;text-align:center;top:725px;font-size:12.5px;line-height:15px;">–20 <span class="dd">––</span> 60</div>
<div class="x d " style="left:559.9px;width:400px;text-align:center;top:725px;font-size:12.5px;line-height:15px;">–20 <span class="dd">––</span> 60</div>
<div class="x b" style="left:58.3px;top:747.45px;font-size:11.38px;line-height:13.7px;">Working humidity range<span class='s'>（<span class="rh">RH</span>）</span></div>
<div class="x d " style="left:275.6px;width:400px;text-align:center;top:746.65px;font-size:12.77px;line-height:15.3px;">10-80%No coagulate frost</div>
<div class="x b" style="left:65.7px;top:767.15px;font-size:11.77px;line-height:14.1px;">Store humidity range<span class='s'>（<span class="rh">RH</span>）</span></div>
<div class="x d " style="left:275.2px;width:400px;text-align:center;top:768.35px;font-size:12.77px;line-height:15.3px;">10-85%No coagulate frost</div>
<div class="x b" style="left:-174.8px;width:400px;text-align:center;top:80.65px;font-size:11.9px;line-height:14.3px;">Module</div>
<div class="x b" style="left:-175.8px;width:400px;text-align:center;top:218.9px;font-size:11.85px;line-height:14.2px;">Units</div>
<div class="x b" style="left:2.4px;top:397.35px;font-size:9.4px;line-height:11.3px;font-weight:normal;-webkit-text-stroke:0.3px #2b2b2b;">Optical</div>
<div class="x b" style="left:2.4px;top:408.15px;font-size:9.4px;line-height:11.3px;font-weight:normal;-webkit-text-stroke:0.3px #2b2b2b;">parameters</div>
<div class="x b" style="left:-0.7px;top:553.1px;font-size:9.65px;line-height:11.6px;-webkit-text-stroke:0.15px #2b2b2b;">Electrical</div>
<div class="x b" style="left:-0.7px;top:564.5px;font-size:9.65px;line-height:11.6px;-webkit-text-stroke:0.15px #2b2b2b;">parameters</div>
<div class="x b" style="left:-0.6px;top:631.15px;font-size:8.75px;line-height:10.5px;">Processing</div>
<div class="x b" style="left:-0.6px;top:642.05px;font-size:8.75px;line-height:10.5px;">performance</div>
<div class="x b" style="left:0px;top:727.55px;font-size:10.25px;line-height:12.3px;">Using</div>
<div class="x b" style="left:0px;top:739.65px;font-size:10.25px;line-height:12.3px;">parameter</div>
<div class="x b nt" style="left:5px;top:792px;font-size:9.52px;line-height:11.4px;">Note: the above products in addition to TWA009 (double power supply backup) products, other products can be upgraded to a double power supply backup.</div>
</body></html>
